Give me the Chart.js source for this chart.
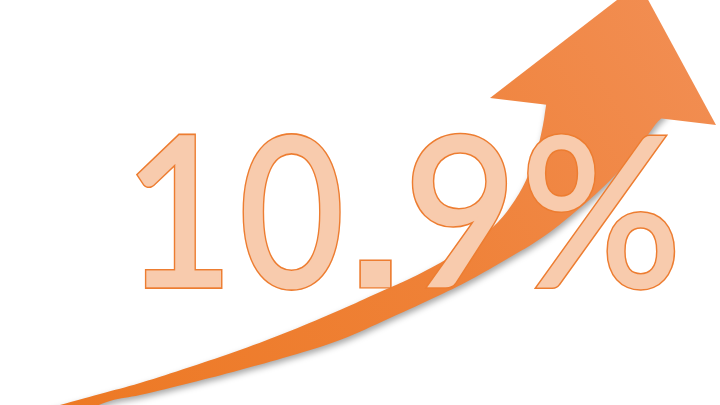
<!DOCTYPE html>
<html>
<head>
<meta charset="utf-8">
<title>10.9%</title>
<script src="https://cdn.jsdelivr.net/npm/chart.js@4.4.1/dist/chart.umd.min.js"></script>
<style>
  html, body { margin: 0; padding: 0; background: #fff; }
  #wrap { width: 720px; height: 405px; position: relative; }
</style>
</head>
<body>
<div id="wrap"><canvas id="growthChart"></canvas></div>
<script>
// Headline figure
const growthValues = [10.9];
const valueSuffix = '%';

// Arrow body, upper edge (tail -> head)
const upperEdgeX = [40, 60, 100, 140, 190, 240, 290, 340, 380, 407, 440, 470, 495, 513, 527, 537, 543, 546, 548];
const upperEdgeY = [411, 405, 394, 383, 367, 350, 331, 310, 292, 280, 263, 245, 225, 203, 178, 150, 125, 106, 96];

// Arrow body, lower edge (head -> tail)
const lowerEdgeX = [665, 655, 638, 618, 598, 575, 543, 507, 470, 440, 390, 340, 290, 240, 190, 140, 110, 85];
const lowerEdgeY = [110, 125, 148, 172, 192, 212, 237, 259, 280, 295, 318, 340, 356, 370, 383, 395, 401, 411];

// Arrow head (left barb, tip, right barb)
const headX = [490, 639, 716, 490];
const headY = [98, -17, 125, 98];

function toPoints(xs, ys) {
    return xs.map((x, i) => ({ x: x, y: ys[i] }));
}

// Orange gradient, darker at the tail
function arrowFill(context) {
    const chart = context.chart;
    const area = chart.chartArea;
    if (!area) return '#ED7D31';
    const g = chart.ctx.createLinearGradient(area.left + 60, area.bottom, area.right, area.top);
    g.addColorStop(0, '#ED7924');
    g.addColorStop(0.5, '#EF8137');
    g.addColorStop(1, '#F28F55');
    return g;
}

// Soft shadow under the body only
const shadowPlugin = {
    id: 'arrowShadow',
    beforeDatasetsDraw(chart) {
        const ctx = chart.ctx;
        ctx.save();
        ctx.shadowColor = 'rgba(0, 0, 0, 0.35)';
        ctx.shadowBlur = 6;
        ctx.shadowOffsetX = 2;
        ctx.shadowOffsetY = 3;
    },
    afterDatasetDraw(chart, args) {
        if (args.index === 1) {
            chart.ctx.shadowColor = 'rgba(0, 0, 0, 0)';
        }
    },
    afterDatasetsDraw(chart) {
        chart.ctx.restore();
    }
};

// Big outlined figure on top: [left, right, top] ink box per glyph
const glyphBoxes = [[137, 222, 135], [243, 340, 133], [360, 391, 260], [412, 507, 133], [527, 675, 133]];
const textBaseline = 288;
const embolden = 2;   // px added round each glyph (Calibri-like weight)
const outlineWidth = 1.5;

const labelPlugin = {
    id: 'bigLabel',
    afterDraw(chart) {
        const ctx = chart.ctx;
        const label = growthValues[0].toFixed(1) + valueSuffix;
        const e = embolden;
        ctx.save();
        ctx.textAlign = 'left';
        ctx.textBaseline = 'alphabetic';
        ctx.lineJoin = 'miter';
        ctx.miterLimit = 3;
        Array.from(label).forEach((ch, i) => {
            const box = glyphBoxes[i];
            if (!box) return;
            ctx.font = ch === '.' ? 'bold 200px "DejaVu Sans"' : '400 200px Lato';
            const m = ctx.measureText(ch);
            const inkW = m.actualBoundingBoxLeft + m.actualBoundingBoxRight;
            const sx = (box[1] - box[0] - 2 * e) / inkW;
            const sy = (textBaseline - box[2] - 2 * e) / m.actualBoundingBoxAscent;
            const s = Math.sqrt(sx * sy);
            ctx.save();
            ctx.translate(box[0] + e, textBaseline - e);
            ctx.scale(sx, sy);
            const x0 = m.actualBoundingBoxLeft;
            ctx.strokeStyle = '#ED7D31';
            ctx.lineWidth = (2 * e + outlineWidth) / s;
            ctx.strokeText(ch, x0, 0);
            ctx.strokeStyle = '#F8CBAD';
            ctx.lineWidth = (2 * e - outlineWidth) / s;
            ctx.strokeText(ch, x0, 0);
            ctx.fillStyle = '#F8CBAD';
            ctx.fillText(ch, x0, 0);
            ctx.restore();
        });
        ctx.restore();
    }
};

const bodyPoints = toPoints(upperEdgeX, upperEdgeY).concat(toPoints(lowerEdgeX, lowerEdgeY));
const headPoints = toPoints(headX, headY);

new Chart(document.getElementById('growthChart'), {
    type: 'scatter',
    data: {
        datasets: [{
            label: 'head',
            data: headPoints,
            order: 1,
            showLine: true,
            fill: 'shape',
            tension: 0,
            pointRadius: 0,
            borderWidth: 0,
            borderColor: 'rgba(0,0,0,0)',
            backgroundColor: arrowFill,
            clip: false
        }, {
            label: 'body',
            data: bodyPoints,
            order: 2,
            showLine: true,
            fill: 'shape',
            tension: 0.4,
            pointRadius: 0,
            borderWidth: 0,
            borderColor: 'rgba(0,0,0,0)',
            backgroundColor: arrowFill,
            clip: false
        }]
    },
    options: {
        responsive: true,
        maintainAspectRatio: false,
        animation: false,
        layout: { padding: 0 },
        plugins: {
            legend: { display: false },
            tooltip: { enabled: false }
        },
        scales: {
            x: { type: 'linear', min: 0, max: 720, display: false },
            y: { type: 'linear', min: 0, max: 405, reverse: true, display: false }
        }
    },
    plugins: [shadowPlugin, labelPlugin]
});
</script>
</body>
</html>
